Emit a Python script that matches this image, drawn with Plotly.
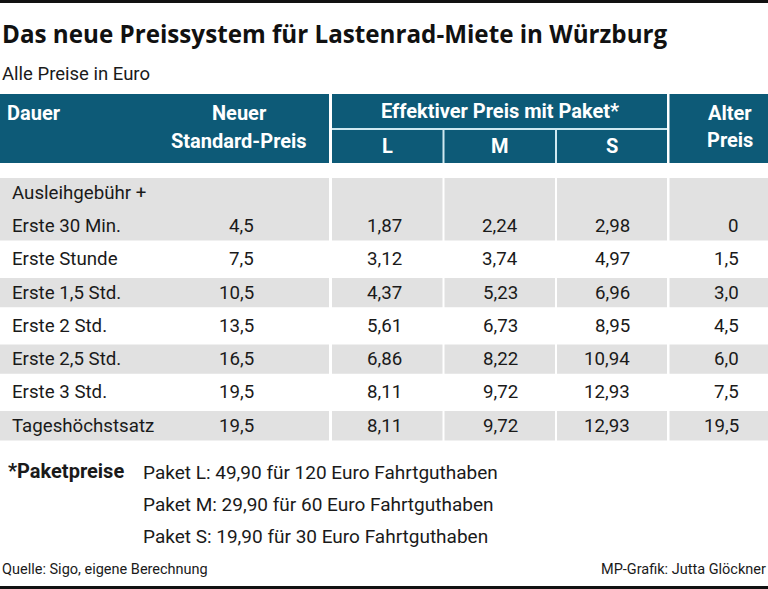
import plotly.graph_objects as go

# ---------------- data ----------------
TITLE = "Das neue Preissystem für Lastenrad-Miete in Würzburg"
SUBTITLE = "Alle Preise in Euro"
SOURCE = "Quelle: Sigo, eigene Berechnung"
CREDIT = "MP-Grafik: Jutta Glöckner"

header_dauer = "Dauer"
header_neuer = ["Neuer", "Standard-Preis"]
header_effektiv = "Effektiver Preis mit Paket*"
paket_names = ["L", "M", "S"]
header_alter = ["Alter", "Preis"]

dauer = [
    ["Ausleihgebühr +", "Erste 30 Min."],
    ["Erste Stunde"],
    ["Erste 1,5 Std."],
    ["Erste 2 Std."],
    ["Erste 2,5 Std."],
    ["Erste 3 Std."],
    ["Tageshöchstsatz"],
]
neuer_standard = [4.5, 7.5, 10.5, 13.5, 16.5, 19.5, 19.5]
paket_l = [1.87, 3.12, 4.37, 5.61, 6.86, 8.11, 8.11]
paket_m = [2.24, 3.74, 5.23, 6.73, 8.22, 9.72, 9.72]
paket_s = [2.98, 4.97, 6.96, 8.95, 10.94, 12.93, 12.93]
alter_preis = [0, 1.5, 3.0, 4.5, 6.0, 7.5, 19.5]

footnote_label = "*Paketpreise"
footnote_lines = [
    "Paket L: 49,90 für 120 Euro Fahrtguthaben",
    "Paket M: 29,90 für 60 Euro Fahrtguthaben",
    "Paket S: 19,90 für 30 Euro Fahrtguthaben",
]

# ---------------- style / layout ----------------
W, H = 768, 589
TEAL = "#0d5a77"
GREY = "#e1e1e1"
DIV = "#cfe8f0"
TXT = "#1a1a1a"
FONT = "Roboto"

# column edges (x in px)
col_main = (0, 329)
col_l = (332, 442.5)
col_m = (444.5, 555)
col_s = (557, 667)
col_alt = (669.5, 768)
value_right = [256, 404, 520, 632, 741]

head_top, head_mid, head_bot = 94, 129, 163
body_top, pitch = 176, 33.3

def fmt(v, d):
    if v == 0:
        return "0"
    return f"{v:.{d}f}".replace(".", ",")

fig = go.Figure()
shapes, ann = [], []

def rect(x0, x1, y0, y1, color):
    shapes.append(dict(type="rect", xref="x", yref="y", x0=x0, x1=x1, y0=y0, y1=y1,
                       fillcolor=color, line=dict(width=0), layer="below"))

def text(x, y, s, size, anchor="left", bold=False, color=TXT, family=FONT):
    ann.append(dict(x=x, y=y, xref="x", yref="y", text=(f"<b>{s}</b>" if bold else s),
                    showarrow=False, xanchor=anchor, yanchor="middle",
                    font=dict(family=family, size=size, color=color)))

# top and bottom rules
rect(0, W, 0, 3, "#111111")
rect(0, W, 586, 589, "#111111")

# title
text(0, 33, TITLE, 24.2, bold=True, color="#111111", family="Open Sans")
text(0, 74, SUBTITLE, 18.5)

# header
HS = 20
rect(col_main[0], col_main[1], head_top, head_bot, TEAL)
rect(col_l[0], col_s[1], head_top, head_bot, TEAL)
rect(col_alt[0], col_alt[1], head_top, head_bot, TEAL)
shapes.append(dict(type="line", xref="x", yref="y", x0=col_l[0], x1=col_s[1], y0=head_mid, y1=head_mid,
                   line=dict(color=DIV, width=2)))
for xe in (443.5, 556):
    shapes.append(dict(type="line", xref="x", yref="y", x0=xe, x1=xe, y0=head_mid, y1=head_bot,
                       line=dict(color=DIV, width=2)))
text(5, 113, header_dauer, HS, bold=True, color="white")
text(239, 113, header_neuer[0], HS, anchor="center", bold=True, color="white")
text(239, 141, header_neuer[1], HS, anchor="center", bold=True, color="white")
text((col_l[0] + col_s[1]) / 2, 111, header_effektiv, HS, anchor="center", bold=True, color="white")
for (c0, c1), name in zip([col_l, col_m, col_s], paket_names):
    text((c0 + c1) / 2, 146, name, HS, anchor="center", bold=True, color="white")
text(730, 113, header_alter[0], HS, anchor="center", bold=True, color="white")
text(730, 140, header_alter[1], HS, anchor="center", bold=True, color="white")

# body
BS = 18.7
cols = [neuer_standard, paket_l, paket_m, paket_s, alter_preis]
decs = [1, 2, 2, 2, 1]
line = 0
for i, labels in enumerate(dauer):
    n = len(labels)
    y0 = body_top + pitch * line
    y1 = body_top + pitch * (line + n)
    if i % 2 == 0:
        for (c0, c1) in [col_main, col_l, col_m, col_s, col_alt]:
            rect(c0, c1, y0 + 2, y1 - 2, GREY)
    for k, lab in enumerate(labels):
        yc = body_top + pitch * (line + k + 0.5)
        text(10, yc, lab, BS)
    yv = body_top + pitch * (line + n - 0.5)
    for xr, col, d in zip(value_right, cols, decs):
        text(xr, yv, fmt(col[i], d), BS, anchor="right")
    line += n

# footnote
text(6, 471, footnote_label, 20, bold=True)
for k, s in enumerate(footnote_lines):
    text(141, 472 + 32 * k, s, 19)

# source line
text(0, 569, SOURCE, 14.5)
text(768, 569, CREDIT, 14.5, anchor="right")

fig.update_layout(
    width=W, height=H, margin=dict(l=0, r=0, t=0, b=0),
    paper_bgcolor="white", plot_bgcolor="white",
    xaxis=dict(range=[0, W], visible=False, fixedrange=True),
    yaxis=dict(range=[H, 0], visible=False, fixedrange=True),
    shapes=shapes, annotations=ann, showlegend=False,
)
fig.write_html(
    "out.html",
    config={"displayModeBar": False},
    post_script="document.body.style.margin='0';document.body.style.padding='0';document.body.style.overflow='hidden';",
)
